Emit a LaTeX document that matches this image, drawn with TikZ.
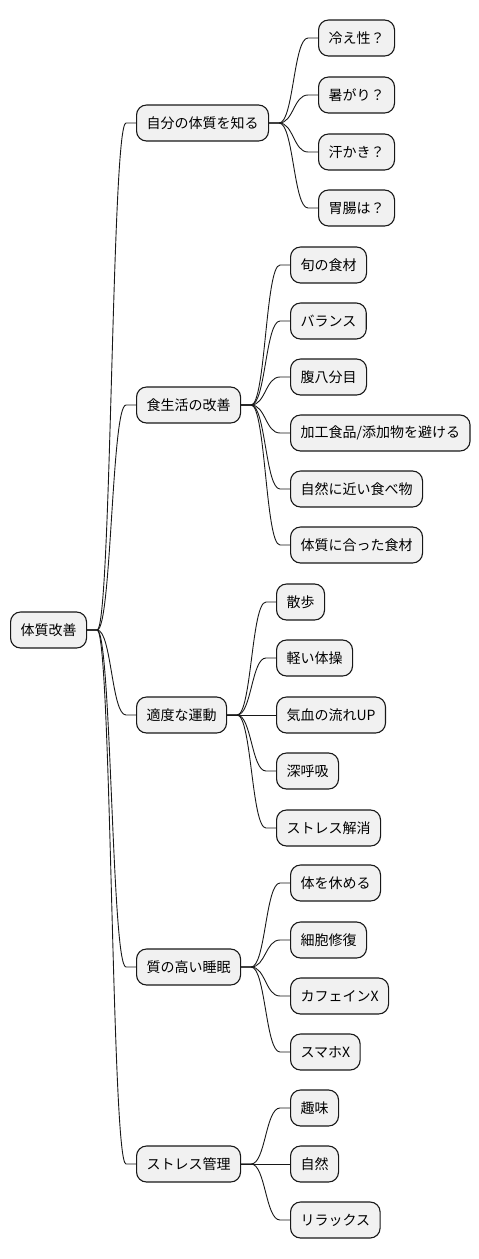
\documentclass[tikz,border=0pt]{standalone}
\usepackage{fontspec}
\setmainfont{Noto Sans CJK JP}
\usetikzlibrary{calc}
\definecolor{boxfill}{HTML}{F1F1F1}
\definecolor{boxline}{HTML}{181818}
\tikzset{
  mmbox/.style={draw=boxline, fill=boxfill, line width=1.1pt, rounded corners=10pt,
    minimum height=36pt, inner xsep=10pt, inner ysep=0pt, anchor=west,
    font=\fontsize{14pt}{16pt}\selectfont, text=black},
  mmline/.style={draw=boxline, line width=0.9pt}
}
\newcommand{\mmconn}[2]{%
  \draw[mmline] let \p1=(#1.east), \p2=(#2.west) in
    (\p1) -- (\x1+10pt,\y1)
    .. controls ({(\x1+\x2)/2},\y1) and ({(\x1+\x2)/2},\y2) ..
    (\x2-10pt,\y2) -- (\p2);}
\begin{document}
\begin{tikzpicture}[x=1pt,y=-1pt]
\useasboundingbox (0,0) rectangle (479,1259);
\node[mmbox] (root) at (10,630) {体質改善};
\node[mmbox] (a) at (136,123) {自分の体質を知る};
\node[mmbox] (b) at (136,405) {食生活の改善};
\node[mmbox] (c) at (136,715) {適度な運動};
\node[mmbox] (d) at (136,967) {質の高い睡眠};
\node[mmbox] (e) at (136,1164) {ストレス管理};
\node[mmbox] (a1) at (318,38) {冷え性？};
\node[mmbox] (a2) at (318,95) {暑がり？};
\node[mmbox] (a3) at (318,152) {汗かき？};
\node[mmbox] (a4) at (318,208) {胃腸は？};
\node[mmbox] (b1) at (290,265) {旬の食材};
\node[mmbox] (b2) at (290,321) {バランス};
\node[mmbox] (b3) at (290,377) {腹八分目};
\node[mmbox] (b4) at (290,433) {加工食品/添加物を避ける};
\node[mmbox] (b5) at (290,489) {自然に近い食べ物};
\node[mmbox] (b6) at (290,545) {体質に合った食材};
\node[mmbox] (c1) at (276,602) {散歩};
\node[mmbox] (c2) at (276,658) {軽い体操};
\node[mmbox] (c3) at (276,715) {気血の流れUP};
\node[mmbox] (c4) at (276,771) {深呼吸};
\node[mmbox] (c5) at (276,828) {ストレス解消};
\node[mmbox] (d1) at (290,883) {体を休める};
\node[mmbox] (d2) at (290,940) {細胞修復};
\node[mmbox] (d3) at (290,996) {カフェインX};
\node[mmbox] (d4) at (290,1052) {スマホX};
\node[mmbox] (e1) at (290,1108) {趣味};
\node[mmbox] (e2) at (290,1164) {自然};
\node[mmbox] (e3) at (290,1220) {リラックス};
\foreach \c in {a,b,c,d,e} {\mmconn{root}{\c}}
\foreach \c in {a1,a2,a3,a4} {\mmconn{a}{\c}}
\foreach \c in {b1,b2,b3,b4,b5,b6} {\mmconn{b}{\c}}
\foreach \c in {c1,c2,c3,c4,c5} {\mmconn{c}{\c}}
\foreach \c in {d1,d2,d3,d4} {\mmconn{d}{\c}}
\foreach \c in {e1,e2,e3} {\mmconn{e}{\c}}
\end{tikzpicture}
\end{document}
